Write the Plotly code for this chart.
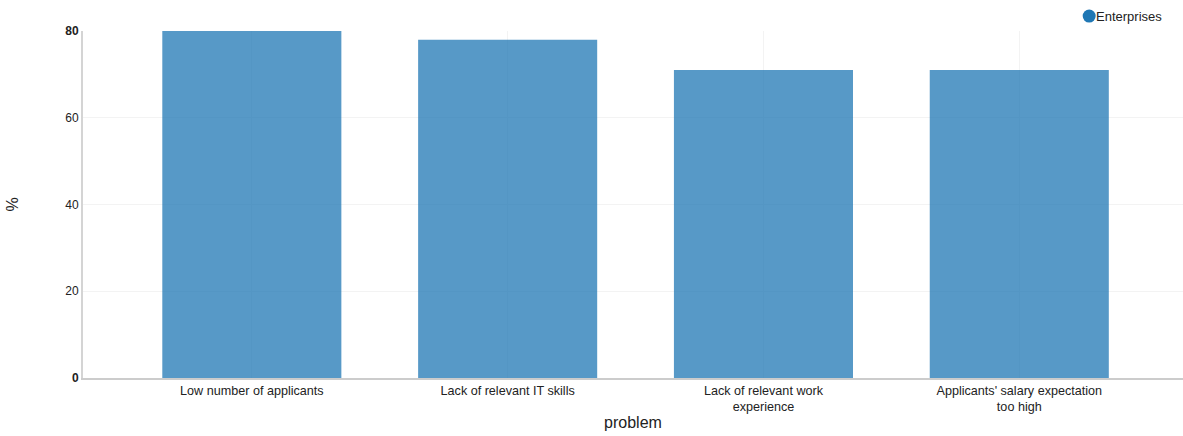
import plotly.graph_objects as go

# Recruitment problems reported by enterprises (share, %)
problems = [
    "Low number of applicants",
    "Lack of relevant IT skills",
    "Lack of relevant work<br>experience",
    "Applicants' salary expectation<br>too high",
]
enterprises = [80, 78, 71, 71]

y_tickvals = [0, 20, 40, 60, 80]
y_ticktext = ["<b>0</b>", "20", "40", "60", "<b>80</b>"]

SERIES_NAME = "Enterprises"
BLUE = "#1f77b4"

fig = go.Figure()
fig.add_trace(go.Bar(
    x=problems,
    y=enterprises,
    name=SERIES_NAME,
    marker=dict(color=BLUE, opacity=0.75, line=dict(width=0)),
    width=0.7,
    showlegend=False,
    hovertemplate="%{x}: %{y}%<extra></extra>",
))

# Compact legend: round swatch followed by the series name
fig.add_shape(
    type="circle",
    xref="paper", yref="paper",
    xsizemode="pixel", ysizemode="pixel",
    xanchor=0.9147, yanchor=1.043,
    x0=-6.5, x1=6.5, y0=-6.5, y1=6.5,
    fillcolor=BLUE, line=dict(width=0),
)
fig.add_annotation(
    xref="paper", yref="paper",
    x=0.9192, y=1.043,
    xanchor="left", yanchor="middle",
    text=SERIES_NAME,
    showarrow=False,
    font=dict(size=13, color="#222222"),
)

# Vertical y-axis title placed at the left edge of the figure
fig.add_annotation(
    xref="paper", yref="paper",
    x=-0.0645, y=0.5,
    xanchor="center", yanchor="middle",
    text="%",
    textangle=-90,
    showarrow=False,
    font=dict(size=16, color="#222222"),
)

fig.update_layout(
    width=1183,
    height=436,
    margin=dict(l=83, r=0, t=31, b=58),
    paper_bgcolor="white",
    plot_bgcolor="white",
    font=dict(family="Liberation Sans, Arial, sans-serif", size=12, color="#222222"),
    showlegend=False,
    xaxis=dict(
        title=dict(text="problem", font=dict(size=16), standoff=4),
        range=[-0.66, 3.64],
        showgrid=True,
        gridcolor="#f3f3f3",
        gridwidth=1,
        showline=True,
        linecolor="#cccccc",
        linewidth=1.5,
        ticks="",
        tickfont=dict(size=12.6),
        fixedrange=True,
    ),
    yaxis=dict(
        range=[0, 80],
        tickvals=y_tickvals,
        ticktext=y_ticktext,
        showgrid=True,
        gridcolor="#f3f3f3",
        gridwidth=1,
        showline=True,
        linecolor="#d4d4d4",
        linewidth=2,
        zeroline=False,
        ticks="",
        tickfont=dict(size=12),
        fixedrange=True,
    ),
)

fig.write_html("out.html")
